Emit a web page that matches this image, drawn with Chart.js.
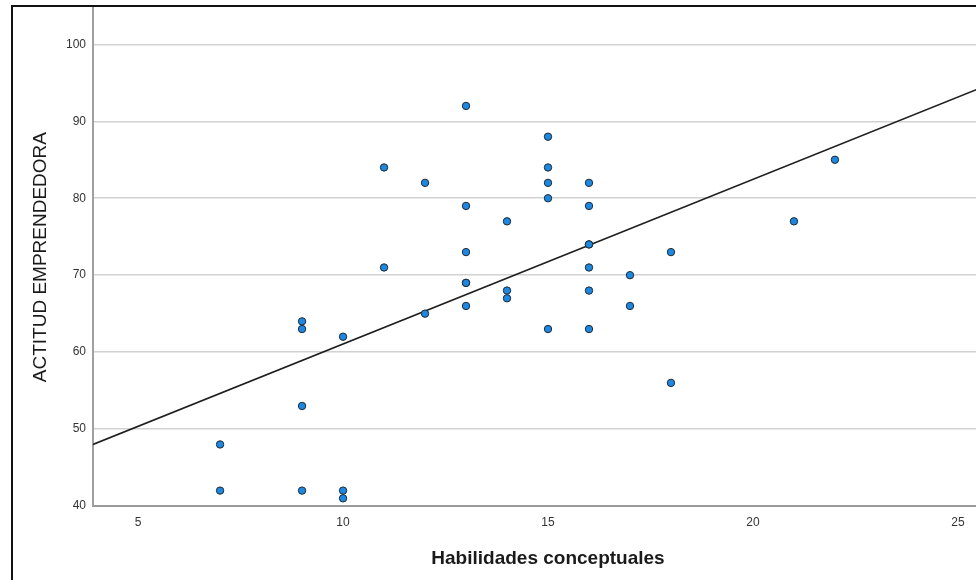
<!DOCTYPE html>
<html>
<head>
<meta charset="utf-8">
<script src="https://cdn.jsdelivr.net/npm/chart.js@4/dist/chart.umd.min.js"></script>
<style>
  html, body { margin: 0; padding: 0; background: #fff; overflow: hidden; }
  #wrap { position: relative; width: 976px; height: 580px; overflow: hidden; }
  #frame { position: absolute; left: 11px; top: 5px; width: 2000px; height: 2000px;
           border-left: 2px solid #111; border-top: 2px solid #111; }
  #plot { position: absolute; left: 0; top: -6px; }
</style>
</head>
<body>
<div id="wrap">
  <div id="frame"></div>
  <canvas id="plot" width="1008" height="586"></canvas>
</div>
<script>
// valores (x = habilidades, y = actitud)
const habilidades = [7, 7, 9, 9, 9, 9, 10, 10, 10, 11, 11, 12, 12,
                     13, 13, 13, 13, 13, 13, 14, 14, 14,
                     15, 15, 15, 15, 15, 16, 16, 16, 16, 16, 16, 16,
                     17, 17, 18, 18, 21, 22]
const actitud = [48, 42, 64, 63, 53, 42, 62, 42, 41, 84, 71, 82, 65,
                 92, 79, 73, 69, 69, 66, 77, 68, 67,
                 88, 84, 82, 80, 63, 82, 79, 74, 74, 71, 68, 63,
                 70, 66, 73, 56, 77, 85]

// recta de ajuste (extremos)
const ajusteX = [3.9, 26.1]
const ajusteY = [48.0, 95.5]

const ticksX = [5, 10, 15, 20, 25]
const ticksY = [40, 50, 60, 70, 80, 90, 100]

const puntos = habilidades.map((x, i) => ({ x: x, y: actitud[i] }))
const recta = ajusteX.map((x, i) => ({ x: x, y: ajusteY[i] }))

new Chart(document.getElementById("plot").getContext("2d"), {
    type: "scatter",
    data: {
        datasets: [
            {
                label: "Ajuste",
                data: recta,
                showLine: true,
                borderColor: "#1e1e1e",
                borderWidth: 1.6,
                pointRadius: 0,
                fill: false,
                order: 2
            },
            {
                label: "Datos",
                data: puntos,
                backgroundColor: "#1e88e0",
                borderColor: "#1c2a36",
                borderWidth: 1,
                pointRadius: 3.7,
                order: 1
            }
        ]
    },
    options: {
        responsive: false,
        animation: false,
        events: [],
        layout: { padding: 0 },
        plugins: { legend: { display: false }, tooltip: { enabled: false } },
        scales: {
            x: {
                type: "linear",
                min: 3.9,
                max: 26.1,
                afterBuildTicks: axis => { axis.ticks = ticksX.map(v => ({ value: v })) },
                afterFit: axis => { axis.height = 74 },
                grid: { display: false, drawTicks: false },
                border: { display: true, color: "#9a9a9a", width: 2 },
                ticks: { color: "#333", font: { family: "Liberation Sans, Arial", size: 12 }, padding: 9, maxRotation: 0 },
                title: {
                    display: true,
                    text: "Habilidades conceptuales",
                    color: "#1a1a1a",
                    font: { family: "Liberation Sans, Arial", size: 19, weight: "bold" },
                    padding: { top: 0, bottom: 10 }
                }
            },
            y: {
                type: "linear",
                min: 40,
                max: 104.7,
                afterBuildTicks: axis => { axis.ticks = ticksY.map(v => ({ value: v })) },
                afterFit: axis => { axis.width = 93 },
                grid: { color: "#d2d2d2", lineWidth: 1.5, drawTicks: false },
                border: { display: true, color: "#a0a0a0", width: 2 },
                ticks: { color: "#333", font: { family: "Liberation Sans, Arial", size: 12 }, padding: 7 },
                title: {
                    display: true,
                    text: "ACTITUD EMPRENDEDORA",
                    color: "#1a1a1a",
                    font: { family: "Liberation Sans, Arial", size: 19 },
                    padding: { top: 29, bottom: 0 }
                }
            }
        }
    }
})
</script>
</body>
</html>
